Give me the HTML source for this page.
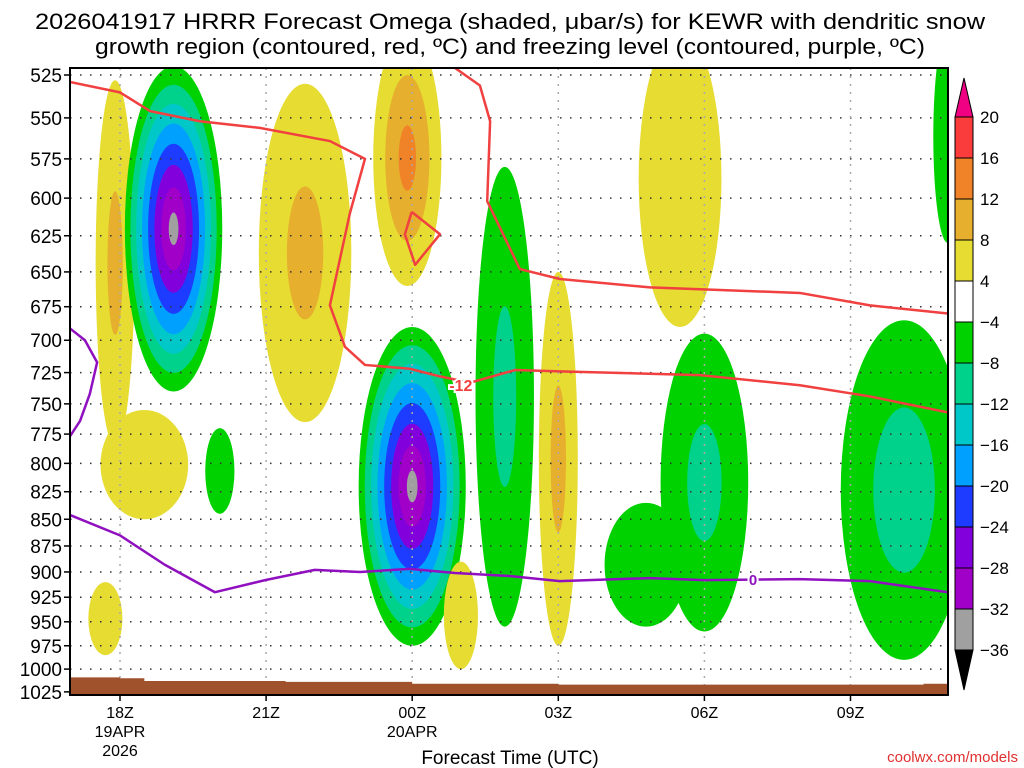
<!DOCTYPE html>
<html><head><meta charset="utf-8">
<style>
html,body{margin:0;padding:0;background:#fff;}
svg{display:block;font-family:"Liberation Sans",sans-serif;}
</style></head>
<body>
<svg id="chart" width="1024" height="768" viewBox="0 0 1024 768">
  <text x="510" y="29" text-anchor="middle" font-size="22" textLength="950" lengthAdjust="spacingAndGlyphs">2026041917 HRRR Forecast Omega (shaded, μbar/s) for KEWR with dendritic snow</text>
  <text x="510" y="54" text-anchor="middle" font-size="22" textLength="830" lengthAdjust="spacingAndGlyphs">growth region (contoured, red, ºC) and freezing level (contoured, purple, ºC)</text>
  <defs><clipPath id="plotclip"><rect x="70" y="68" width="878" height="627"/></clipPath></defs>
  <g id="shade" clip-path="url(#plotclip)"></g>
  <g id="grid"></g>
  <g id="ground" clip-path="url(#plotclip)"></g>
  <g id="contours" clip-path="url(#plotclip)"></g>
  <rect x="70" y="68" width="878" height="627" fill="none" stroke="#000" stroke-width="2"/>
  <g id="axes"></g>
  <g id="cbar"></g>
  <text x="510" y="764" text-anchor="middle" font-size="19">Forecast Time (UTC)</text>
  <text x="1018" y="762" text-anchor="end" font-size="15" fill="#e03030">coolwx.com/models</text>
</svg>
<script>
// ---- data ----
const pressureTicks=[525,550,575,600,625,650,675,700,725,750,775,800,825,850,875,900,925,950,975,1000,1025];
const timeTickHours=[0,3,6,9,12,15];
const timeTickLabels=[["18Z","19APR","2026"],["21Z"],["00Z","20APR"],["03Z"],["06Z"],["09Z"]];
const posLevels=[4,8,12,16,20];
const posColors=["#e6dc32","#e6af2d","#f08228","#fa3c3c","#f00082"];
const negLevels=[-4,-8,-12,-16,-20,-24,-28,-32,-36];
const negColors=["#00d200","#00d28c","#00c8c8","#00a0ff","#1e3cff","#8200dc","#a000c8","#a0a0a0","#000000"];
const cbarLabels=[20,16,12,8,4,-4,-8,-12,-16,-20,-24,-28,-32,-36];
// blobs: [centerHour, halfWidthHours, pTop, pBottom, peak]
const blobs=[
 [0.5,0.9,755,850,5],
 [-0.1,0.4,528,785,10],
 [1.1,1.0,520,740,-34],
 [2.05,0.3,770,845,-6],
 [3.8,0.95,530,765,10],
 [5.9,0.7,500,660,14],
 [6.0,1.1,690,975,-34],
 [7.9,0.6,580,955,-10],
 [9.0,0.4,650,975,10],
 [11.5,0.85,500,690,6],
 [10.8,0.85,835,955,-6],
 [12.0,0.9,695,960,-10],
 [16.1,1.3,685,990,-11],
 [17.0,0.3,500,630,-6],
 [-0.3,0.35,910,985,6],
 [7.0,0.35,890,1000,6]
];
const red1Hours=[-1.03,0,0.62,1.64,2.87,4.31,5.03,4.72,4.31,4.62,5.03,5.95,6.57,7.19,8.11,9.03,11.91,13.96,15.4,17.0];
const red1Press=[529,535,546,552,556,564,575,610,674,705,719,722,728,733,723,724,727,735,744,757];
const red2Hours=[6.88,7.39,7.6,7.54,8.21,9.03,10.88,13.96,15.4,17.0];
const red2Press=[521,531,552,602,648,655,661,665,674,680];
const redLoopHours=[5.99,6.57,6.06,5.85,5.99];
const redLoopPress=[609,624,645,624,609];
const frz1Hours=[-1.03,-0.72,-0.47,-0.62,-0.82,-1.03];
const frz1Press=[691,700,717,742,764,777];
const frz2Hours=[-1.03,0,0.92,1.95,2.98,4.0,4.93,5.95,6.88,8.0,9.03,10.88,12.0,13.96,15.4,17.0];
const frz2Press=[846,865,893,920,908,898,900,897,901,904,909,906,908,907,909,920];
const sfcHours=[-1.03,0,0.5,3.0,3.4,5.0,6.0,9.0,12.0,15.0,16.5,17.0];
const sfcPress=[1009,1010,1013,1013,1014,1014,1016,1017,1017,1017,1016,1016];

// ---- scales ----
const NS="http://www.w3.org/2000/svg";
const X=h=>120+h*48.7;
const Y=p=>75+922*Math.log(p/525);
function mk(tag,attrs,parent){const e=document.createElementNS(NS,tag);for(const k in attrs)e.setAttribute(k,attrs[k]);parent.appendChild(e);return e;}
const shade=document.getElementById('shade');
let items=[];
blobs.forEach((b,bi)=>{
  const [t,dt,pt,pb,pk]=b;
  const lv=pk>0?posLevels:negLevels, cols=pk>0?posColors:negColors;
  lv.forEach((L,i)=>{
    if(Math.abs(pk)<=Math.abs(L)) return;
    const s=Math.pow((pk-L)/(pk-lv[0]),0.85);
    items.push({order:i,bi,t,dt,pt,pb,s,c:cols[i]});
  });
});
items.sort((a,b)=>a.order-b.order);
items.forEach(it=>{
  const y1=Y(it.pt),y2=Y(it.pb);
  const e=mk('ellipse',{cx:X(it.t),cy:(y1+y2)/2,rx:it.dt*48.7*it.s,ry:(y2-y1)/2*it.s,fill:it.c},shade);
  
  
});
// grid
const grid=document.getElementById('grid');
pressureTicks.forEach(p=>{
  const l=mk('line',{x1:70,x2:948,y1:Y(p),y2:Y(p),stroke:"#333","stroke-width":1.5,"stroke-dasharray":"1.5 8.5"},grid);
  
  
});
timeTickHours.forEach(h=>{
  const l=mk('line',{x1:X(h),x2:X(h),y1:68,y2:695,stroke:"#aaa","stroke-width":1.5,"stroke-dasharray":"2 6"},grid);
  
  
});
// ground
const gnd=document.getElementById('ground');
let gd="M"+X(sfcHours[0])+",700";
sfcHours.forEach((h,i)=>{gd+=" L"+X(h)+","+Y(sfcPress[i]);if(i<sfcHours.length-1)gd+=" L"+X(sfcHours[i+1])+","+Y(sfcPress[i]);});
gd+=" L"+X(sfcHours[sfcHours.length-1])+",700 Z";
const gp=mk('path',{d:gd,fill:"#a0522d"},gnd);


// contours
const cg=document.getElementById('contours');
function drawLine(hs,ps,col,name){
  const pts=hs.map((h,i)=>X(h)+","+Y(ps[i])).join(" ");
  const e=mk('polyline',{points:pts,fill:"none",stroke:col,"stroke-width":2.5,"stroke-linejoin":"round"},cg);
  
  
}
drawLine(red1Hours,red1Press,"#f04040","dgz-contour-lower");
drawLine(red2Hours,red2Press,"#f04040","dgz-contour-upper");
drawLine(redLoopHours,redLoopPress,"#f04040","dgz-contour-loop");
drawLine(frz1Hours,frz1Press,"#9010c0","freezing-level-left");
drawLine(frz2Hours,frz2Press,"#9010c0","freezing-level-main");
const lb1=mk('text',{x:X(7.0),y:Y(735)+6,"text-anchor":"middle","font-size":16,"font-weight":"bold",fill:"#f04040",stroke:"#fff","stroke-width":4,"paint-order":"stroke"},cg);
lb1.textContent="-12";


const lb2=mk('text',{x:X(13.0),y:Y(907)+6,"text-anchor":"middle","font-size":15,"font-weight":"bold",fill:"#9010c0",stroke:"#fff","stroke-width":4,"paint-order":"stroke"},cg);
lb2.textContent="0";


// axes
const ax=document.getElementById('axes');
pressureTicks.forEach(p=>{
  mk('line',{x1:64,x2:70,y1:Y(p),y2:Y(p),stroke:"#000","stroke-width":1.5},ax);
  const t=mk('text',{x:62,y:Y(p)+7,"text-anchor":"end","font-size":19},ax);
  t.textContent=p;
  
  
});
timeTickHours.forEach((h,i)=>{
  mk('line',{x1:X(h),x2:X(h),y1:695,y2:701,stroke:"#000","stroke-width":1.5},ax);
  timeTickLabels[i].forEach((s,j)=>{
    const t=mk('text',{x:X(h),y:718+j*19,"text-anchor":"middle","font-size":16},ax);
    t.textContent=s;
    
    
  });
});
// colorbar
const cb=document.getElementById('cbar');
const allCols=posColors.slice(0,4).reverse().concat(["#ffffff"]).concat(negColors.slice(0,8));
const cbTop=117,bh=41,cx0=955,cw=18;
mk('polygon',{points:`${cx0},${cbTop} ${cx0+cw},${cbTop} ${cx0+cw/2},78`,fill:posColors[4],stroke:"#000","stroke-width":1},cb);
allCols.forEach((c,i)=>{
  const r=mk('rect',{x:cx0,y:cbTop+i*bh,width:cw,height:bh,fill:c,stroke:"#000","stroke-width":1},cb);
  
  
});
const cbBot=cbTop+13*bh;
mk('polygon',{points:`${cx0},${cbBot} ${cx0+cw},${cbBot} ${cx0+cw/2},690`,fill:"#000",stroke:"#000","stroke-width":1},cb);
cbarLabels.forEach((v,i)=>{
  const t=mk('text',{x:980,y:cbTop+i*bh+6,"font-size":17},cb);
  t.textContent=v<0?"\u2212"+(-v):v;
  
  
});
</script>
</body></html>
